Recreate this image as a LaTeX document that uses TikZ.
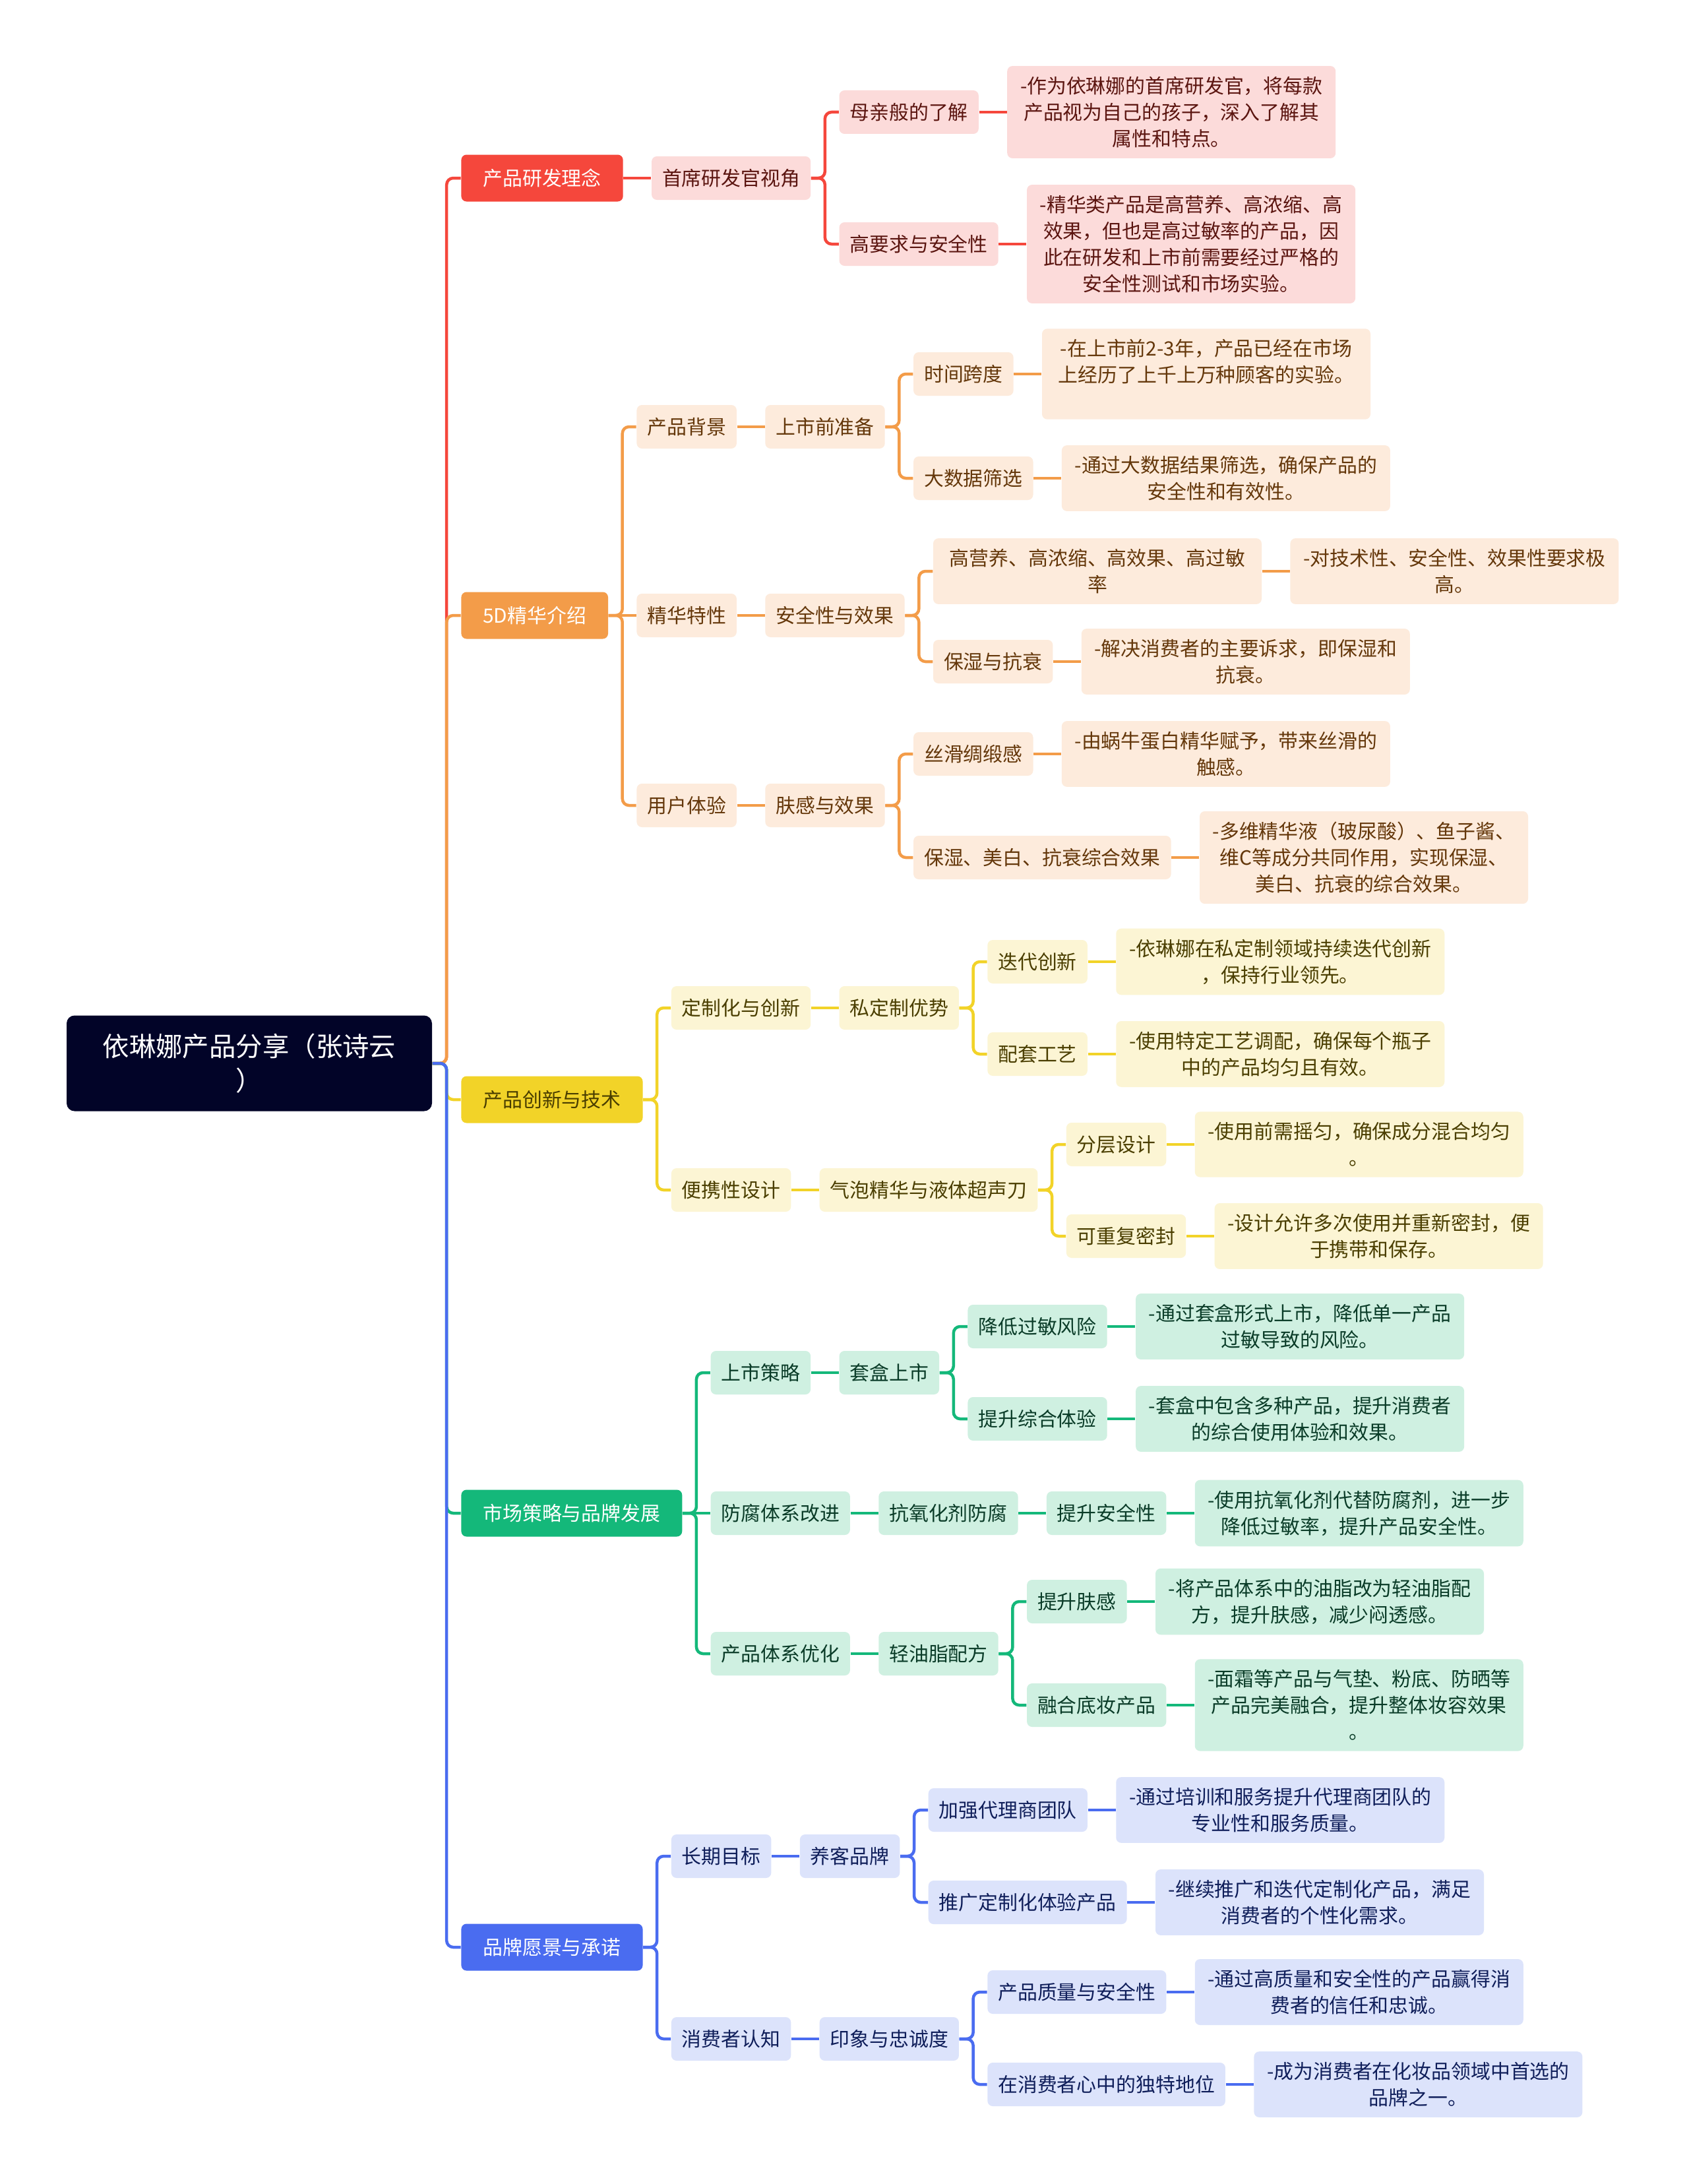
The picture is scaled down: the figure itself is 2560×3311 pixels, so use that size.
\documentclass[tikz,border=0pt]{standalone}
\usepackage{fontspec}
\setmainfont{Noto Sans CJK SC}
\usepackage{tikz}
\usetikzlibrary{positioning,calc}

\definecolor{rootc}{HTML}{020428}
\definecolor{redA}{HTML}{F5473C}
\definecolor{redL}{HTML}{FCDBDA}
\definecolor{redT}{HTML}{5B1510}
\definecolor{orgA}{HTML}{F39C49}
\definecolor{orgL}{HTML}{FDEBDC}
\definecolor{orgT}{HTML}{64370A}
\definecolor{yelA}{HTML}{F2D328}
\definecolor{yelL}{HTML}{FCF5D4}
\definecolor{yelT}{HTML}{4A3E00}
\definecolor{grnA}{HTML}{14B87A}
\definecolor{grnL}{HTML}{CFF0E1}
\definecolor{grnT}{HTML}{0A3C28}
\definecolor{bluA}{HTML}{4A6CF0}
\definecolor{bluL}{HTML}{DCE3FB}
\definecolor{bluT}{HTML}{0F1E5A}

\tikzset{
  mapnode/.style={rounded corners=0.8mm, align=center, inner ysep=0pt,
    font=\fontsize{8.5}{11.4}\selectfont},
  rootbox/.style={mapnode, fill=rootc, text=white, rounded corners=1.2mm,
    text width=45mm, inner xsep=5.2mm, minimum height=14.5mm,
    font=\fontsize{11.5}{14.6}\selectfont},
  topic/.style  ={mapnode, fill=#1A, text=white, minimum height=7.1mm,
    inner xsep=3.3mm},
  subbox/.style ={mapnode, fill=#1L, text=#1T, minimum height=6.6mm,
    inner xsep=1.6mm},
  leafbox/.style={mapnode, fill=#1L, text=#1T, text width=47.2mm,
    inner xsep=1.3mm, inner ysep=1.6mm},
  link/.style   ={draw=#1A, line width=0.45mm, rounded corners=1mm},
  forkto/.style ={to path={-| ($(\tikztostart)!0.5!(\tikztotarget)$)
    |- (\tikztotarget)}}
}

\begin{document}
\begin{tikzpicture}[x=0.1mm, y=-0.1mm]
    \path[fill=white] (0,0) rectangle (2560,3311);

    % ---------- root and main topics ----------
    \node[rootbox] (root) at (378,1612) {依琳娜产品分享（张诗云\\）};

    \node[topic=red, anchor=west] (c1) at ($(root.east)+(43,-1342)$) {产品研发理念};
    \node[topic=org, anchor=west] (c2) at ($(root.east)+(43,-679)$) {5D精华介绍};
    \node[topic=yel, text=yelT, anchor=west] (c3) at ($(root.east)+(43,55)$) {产品创新与技术};
    \node[topic=grn, anchor=west] (c4) at ($(root.east)+(43,682)$) {市场策略与品牌发展};
    \node[topic=blu, anchor=west] (c5) at ($(root.east)+(43,1340)$) {品牌愿景与承诺};

    \draw[link=red] (root.east) to[forkto] (c1.west);
    \draw[link=org] (root.east) to[forkto] (c2.west);
    \draw[link=yel] (root.east) to[forkto] (c3.west);
    \draw[link=grn] (root.east) to[forkto] (c4.west);
    \draw[link=blu] (root.east) to[forkto] (c5.west);

    % ---------- 产品研发理念 ----------
    \node[subbox=red, anchor=west] (r1) at ($(c1.east)+(42,0)$) {首席研发官视角};
    \node[subbox=red, anchor=west] (r11) at ($(r1.east)+(42,-100)$) {母亲般的了解};
    \node[subbox=red, anchor=west] (r12) at ($(r1.east)+(42,100)$) {高要求与安全性};
    \node[leafbox=red, anchor=west] (r11a) at ($(r11.east)+(42,0)$)
      {-作为依琳娜的首席研发官，将每款\\产品视为自己的孩子，深入了解其\\属性和特点。};
    \node[leafbox=red, anchor=west] (r12a) at ($(r12.east)+(42,0)$)
      {-精华类产品是高营养、高浓缩、高\\效果，但也是高过敏率的产品，因\\此在研发和上市前需要经过严格的\\安全性测试和市场实验。};

    \draw[link=red] (c1.east) -- (r1.west);
    \draw[link=red] (r1.east) to[forkto] (r11.west);
    \draw[link=red] (r1.east) to[forkto] (r12.west);
    \draw[link=red] (r11.east) -- (r11a.west);
    \draw[link=red] (r12.east) -- (r12a.west);

    % ---------- 5D精华介绍 ----------
    \node[subbox=org, anchor=west] (o1) at ($(c2.east)+(42,-286)$) {产品背景};
    \node[subbox=org, anchor=west] (o2) at ($(c2.east)+(42,0)$) {精华特性};
    \node[subbox=org, anchor=west] (o3) at ($(c2.east)+(42,288)$) {用户体验};
    \node[subbox=org, anchor=west] (o11) at ($(o1.east)+(42,0)$) {上市前准备};
    \node[subbox=org, anchor=west] (o21) at ($(o2.east)+(42,0)$) {安全性与效果};
    \node[subbox=org, anchor=west] (o31) at ($(o3.east)+(42,0)$) {肤感与效果};

    \node[subbox=org, anchor=west] (o111) at ($(o11.east)+(42,-80)$) {时间跨度};
    \node[subbox=org, anchor=west] (o112) at ($(o11.east)+(42,78)$) {大数据筛选};
    \node[leafbox=org, anchor=west] (o111a) at ($(o111.east)+(42,0)$)
      {-在上市前2-3年，产品已经在市场\\上经历了上千上万种顾客的实验。\\\mbox{}};
    \node[leafbox=org, anchor=west] (o112a) at ($(o112.east)+(42,0)$)
      {-通过大数据结果筛选，确保产品的\\安全性和有效性。};

    \node[leafbox=org, anchor=west] (o211) at ($(o21.east)+(42,-67)$)
      {高营养、高浓缩、高效果、高过敏\\率};
    \node[subbox=org, anchor=west] (o212) at ($(o21.east)+(42,70)$) {保湿与抗衰};
    \node[leafbox=org, anchor=west] (o211a) at ($(o211.east)+(42,0)$)
      {-对技术性、安全性、效果性要求极\\高。};
    \node[leafbox=org, anchor=west] (o212a) at ($(o212.east)+(42,0)$)
      {-解决消费者的主要诉求，即保湿和\\抗衰。};

    \node[subbox=org, anchor=west] (o311) at ($(o31.east)+(42,-78)$) {丝滑绸缎感};
    \node[subbox=org, anchor=west] (o312) at ($(o31.east)+(42,79)$) {保湿、美白、抗衰综合效果};
    \node[leafbox=org, anchor=west] (o311a) at ($(o311.east)+(42,0)$)
      {-由蜗牛蛋白精华赋予，带来丝滑的\\触感。};
    \node[leafbox=org, anchor=west] (o312a) at ($(o312.east)+(42,0)$)
      {-多维精华液（玻尿酸）、鱼子酱、\\维C等成分共同作用，实现保湿、\\美白、抗衰的综合效果。};

    \draw[link=org] (c2.east) to[forkto] (o1.west);
    \draw[link=org] (c2.east) -- (o2.west);
    \draw[link=org] (c2.east) to[forkto] (o3.west);
    \draw[link=org] (o1.east) -- (o11.west);
    \draw[link=org] (o2.east) -- (o21.west);
    \draw[link=org] (o3.east) -- (o31.west);
    \draw[link=org] (o11.east) to[forkto] (o111.west);
    \draw[link=org] (o11.east) to[forkto] (o112.west);
    \draw[link=org] (o21.east) to[forkto] (o211.west);
    \draw[link=org] (o21.east) to[forkto] (o212.west);
    \draw[link=org] (o31.east) to[forkto] (o311.west);
    \draw[link=org] (o31.east) to[forkto] (o312.west);
    \draw[link=org] (o111.east) -- (o111.east -| o111a.west);
    \draw[link=org] (o112.east) -- (o112a.west);
    \draw[link=org] (o211.east) -- (o211a.west);
    \draw[link=org] (o212.east) -- (o212a.west);
    \draw[link=org] (o311.east) -- (o311a.west);
    \draw[link=org] (o312.east) -- (o312a.west);

    % ---------- 产品创新与技术 ----------
    \node[subbox=yel, anchor=west] (y1) at ($(c3.east)+(42,-139)$) {定制化与创新};
    \node[subbox=yel, anchor=west] (y2) at ($(c3.east)+(42,137)$) {便携性设计};
    \node[subbox=yel, anchor=west] (y11) at ($(y1.east)+(42,0)$) {私定制优势};
    \node[subbox=yel, anchor=west] (y21) at ($(y2.east)+(42,0)$) {气泡精华与液体超声刀};
    \node[subbox=yel, anchor=west] (y111) at ($(y11.east)+(42,-70)$) {迭代创新};
    \node[subbox=yel, anchor=west] (y112) at ($(y11.east)+(42,70)$) {配套工艺};
    \node[subbox=yel, anchor=west] (y211) at ($(y21.east)+(42,-69)$) {分层设计};
    \node[subbox=yel, anchor=west] (y212) at ($(y21.east)+(42,70)$) {可重复密封};
    \node[leafbox=yel, anchor=west] (y111a) at ($(y111.east)+(42,0)$)
      {-依琳娜在私定制领域持续迭代创新\\，保持行业领先。};
    \node[leafbox=yel, anchor=west] (y112a) at ($(y112.east)+(42,0)$)
      {-使用特定工艺调配，确保每个瓶子\\中的产品均匀且有效。};
    \node[leafbox=yel, anchor=west] (y211a) at ($(y211.east)+(42,0)$)
      {-使用前需摇匀，确保成分混合均匀\\。};
    \node[leafbox=yel, anchor=west] (y212a) at ($(y212.east)+(42,0)$)
      {-设计允许多次使用并重新密封，便\\于携带和保存。};

    \draw[link=yel] (c3.east) to[forkto] (y1.west);
    \draw[link=yel] (c3.east) to[forkto] (y2.west);
    \draw[link=yel] (y1.east) -- (y11.west);
    \draw[link=yel] (y2.east) -- (y21.west);
    \draw[link=yel] (y11.east) to[forkto] (y111.west);
    \draw[link=yel] (y11.east) to[forkto] (y112.west);
    \draw[link=yel] (y21.east) to[forkto] (y211.west);
    \draw[link=yel] (y21.east) to[forkto] (y212.west);
    \draw[link=yel] (y111.east) -- (y111a.west);
    \draw[link=yel] (y112.east) -- (y112a.west);
    \draw[link=yel] (y211.east) -- (y211a.west);
    \draw[link=yel] (y212.east) -- (y212a.west);

    % ---------- 市场策略与品牌发展 ----------
    \node[subbox=grn, anchor=west] (g1) at ($(c4.east)+(42,-213)$) {上市策略};
    \node[subbox=grn, anchor=west] (g2) at ($(c4.east)+(42,0)$) {防腐体系改进};
    \node[subbox=grn, anchor=west] (g3) at ($(c4.east)+(42,213)$) {产品体系优化};
    \node[subbox=grn, anchor=west] (g11) at ($(g1.east)+(42,0)$) {套盒上市};
    \node[subbox=grn, anchor=west] (g21) at ($(g2.east)+(42,0)$) {抗氧化剂防腐};
    \node[subbox=grn, anchor=west] (g31) at ($(g3.east)+(42,0)$) {轻油脂配方};
    \node[subbox=grn, anchor=west] (g111) at ($(g11.east)+(42,-70)$) {降低过敏风险};
    \node[subbox=grn, anchor=west] (g112) at ($(g11.east)+(42,70)$) {提升综合体验};
    \node[subbox=grn, anchor=west] (g211) at ($(g21.east)+(42,0)$) {提升安全性};
    \node[subbox=grn, anchor=west] (g311) at ($(g31.east)+(42,-79)$) {提升肤感};
    \node[subbox=grn, anchor=west] (g312) at ($(g31.east)+(42,78)$) {融合底妆产品};
    \node[leafbox=grn, anchor=west] (g111a) at ($(g111.east)+(42,0)$)
      {-通过套盒形式上市，降低单一产品\\过敏导致的风险。};
    \node[leafbox=grn, anchor=west] (g112a) at ($(g112.east)+(42,0)$)
      {-套盒中包含多种产品，提升消费者\\的综合使用体验和效果。};
    \node[leafbox=grn, anchor=west] (g211a) at ($(g211.east)+(42,0)$)
      {-使用抗氧化剂代替防腐剂，进一步\\降低过敏率，提升产品安全性。};
    \node[leafbox=grn, anchor=west] (g311a) at ($(g311.east)+(42,0)$)
      {-将产品体系中的油脂改为轻油脂配\\方，提升肤感，减少闷透感。};
    \node[leafbox=grn, anchor=west] (g312a) at ($(g312.east)+(42,0)$)
      {-面霜等产品与气垫、粉底、防晒等\\产品完美融合，提升整体妆容效果\\。};

    \draw[link=grn] (c4.east) to[forkto] (g1.west);
    \draw[link=grn] (c4.east) -- (g2.west);
    \draw[link=grn] (c4.east) to[forkto] (g3.west);
    \draw[link=grn] (g1.east) -- (g11.west);
    \draw[link=grn] (g2.east) -- (g21.west);
    \draw[link=grn] (g3.east) -- (g31.west);
    \draw[link=grn] (g11.east) to[forkto] (g111.west);
    \draw[link=grn] (g11.east) to[forkto] (g112.west);
    \draw[link=grn] (g21.east) -- (g211.west);
    \draw[link=grn] (g31.east) to[forkto] (g311.west);
    \draw[link=grn] (g31.east) to[forkto] (g312.west);
    \draw[link=grn] (g111.east) -- (g111a.west);
    \draw[link=grn] (g112.east) -- (g112a.west);
    \draw[link=grn] (g211.east) -- (g211a.west);
    \draw[link=grn] (g311.east) -- (g311a.west);
    \draw[link=grn] (g312.east) -- (g312a.west);

    % ---------- 品牌愿景与承诺 ----------
    \node[subbox=blu, anchor=west] (b1) at ($(c5.east)+(42,-138)$) {长期目标};
    \node[subbox=blu, anchor=west] (b2) at ($(c5.east)+(42,139)$) {消费者认知};
    \node[subbox=blu, anchor=west] (b11) at ($(b1.east)+(42,0)$) {养客品牌};
    \node[subbox=blu, anchor=west] (b21) at ($(b2.east)+(42,0)$) {印象与忠诚度};
    \node[subbox=blu, anchor=west] (b111) at ($(b11.east)+(42,-70)$) {加强代理商团队};
    \node[subbox=blu, anchor=west] (b112) at ($(b11.east)+(42,70)$) {推广定制化体验产品};
    \node[subbox=blu, anchor=west] (b211) at ($(b21.east)+(42,-71)$) {产品质量与安全性};
    \node[subbox=blu, anchor=west] (b212) at ($(b21.east)+(42,69)$) {在消费者心中的独特地位};
    \node[leafbox=blu, anchor=west] (b111a) at ($(b111.east)+(42,0)$)
      {-通过培训和服务提升代理商团队的\\专业性和服务质量。};
    \node[leafbox=blu, anchor=west] (b112a) at ($(b112.east)+(42,0)$)
      {-继续推广和迭代定制化产品，满足\\消费者的个性化需求。};
    \node[leafbox=blu, anchor=west] (b211a) at ($(b211.east)+(42,0)$)
      {-通过高质量和安全性的产品赢得消\\费者的信任和忠诚。};
    \node[leafbox=blu, anchor=west] (b212a) at ($(b212.east)+(42,0)$)
      {-成为消费者在化妆品领域中首选的\\品牌之一。};

    \draw[link=blu] (c5.east) to[forkto] (b1.west);
    \draw[link=blu] (c5.east) to[forkto] (b2.west);
    \draw[link=blu] (b1.east) -- (b11.west);
    \draw[link=blu] (b2.east) -- (b21.west);
    \draw[link=blu] (b11.east) to[forkto] (b111.west);
    \draw[link=blu] (b11.east) to[forkto] (b112.west);
    \draw[link=blu] (b21.east) to[forkto] (b211.west);
    \draw[link=blu] (b21.east) to[forkto] (b212.west);
    \draw[link=blu] (b111.east) -- (b111a.west);
    \draw[link=blu] (b112.east) -- (b112a.west);
    \draw[link=blu] (b211.east) -- (b211a.west);
    \draw[link=blu] (b212.east) -- (b212a.west);

\end{tikzpicture}
\end{document}
